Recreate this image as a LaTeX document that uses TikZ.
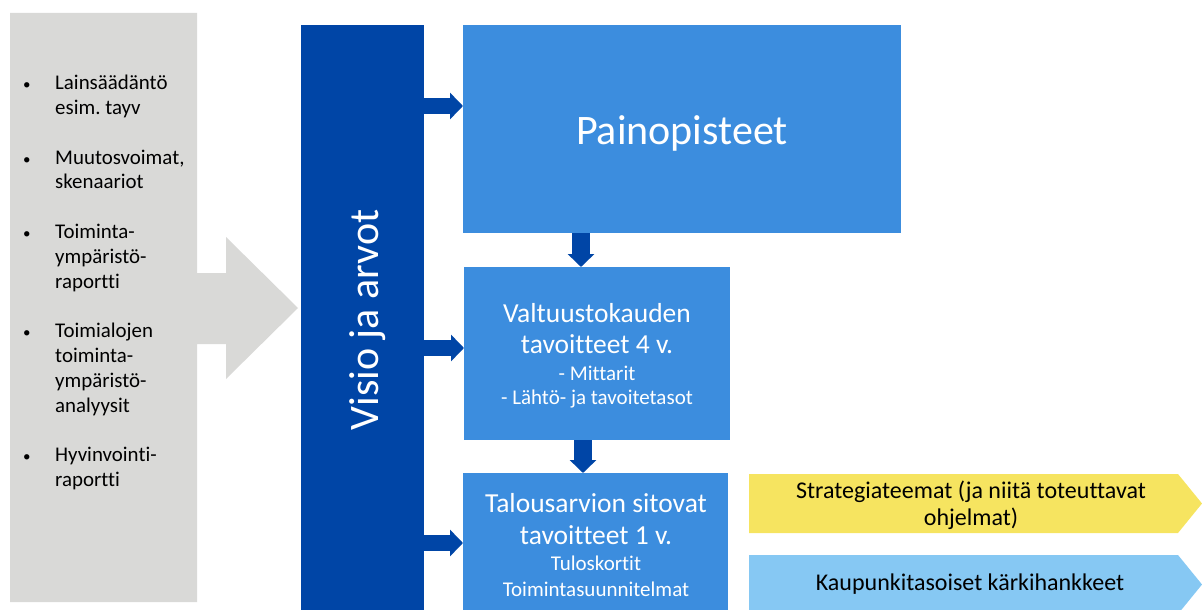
\documentclass[tikz,border=0pt]{standalone}
\usepackage{fontspec}
\setmainfont{Carlito}[Ligatures=NoCommon]
\usetikzlibrary{arrows.meta}
\definecolor{graybg}{HTML}{D9D9D7}
\definecolor{navy}{HTML}{0045A6}
\definecolor{boxblue}{HTML}{3C8DDE}
\definecolor{ylw}{HTML}{F6E460}
\definecolor{skyb}{HTML}{86C8F3}
\frenchspacing
\newcommand{\smallbul}{{\fontsize{15}{15}\selectfont\textbullet}}
\begin{document}
\begin{tikzpicture}[x=1pt,y=-1pt,
  blk/.style={fill=boxblue, draw=none, inner sep=0pt, anchor=north west},
  harrow/.style={draw=navy, line width=16pt, -{Triangle[length=13pt,width=26pt]}},
  varrow/.style={draw=navy, line width=18pt, -{Triangle[length=13pt,width=26pt]}},
  wbig/.style={text=white, inner sep=0pt, anchor=base, font=\fontsize{27.5}{30}\selectfont},
  wsmall/.style={text=white, inner sep=0pt, anchor=base, font=\fontsize{21}{24}\selectfont},
  btxt/.style={text=black, inner sep=0pt, anchor=base, font=\fontsize{24}{27}\selectfont}
]
\useasboundingbox (0,0) rectangle (1202,610);
\clip (0,0) rectangle (1202,610);

% left gray panel with arrow
\fill[graybg] (10,13) -- (197,13) -- (197,273) -- (226,273) -- (226,237) -- (298,308)
  -- (226,379) -- (226,344) -- (197,344) -- (197,602) -- (10,602) -- cycle;
\node[anchor=north west, inner sep=0pt, text=black, font=\fontsize{20.9}{24.8}\selectfont] (factors) at (23,72.1)
{\begin{tabular}{@{}p{32pt}@{}l@{}}
\smallbul & Lainsäädäntö\\
 & esim. tayv\\
 & \\
\smallbul & Muutosvoimat,\\
 & skenaariot\\
 & \\
\smallbul & Toiminta-\\
 & ympäristö-\\
 & raportti\\
 & \\
\smallbul & Toimialojen\\
 & toiminta-\\
 & ympäristö-\\
 & analyysit\\
 & \\
\smallbul & Hyvinvointi-\\
 & raportti
\end{tabular}};

% vision column
\node[fill=navy, draw=none, inner sep=0pt, anchor=north west, minimum width=123pt, minimum height=600pt] (visio) at (301,25) {};
\node[rotate=90, text=white, inner sep=0pt, anchor=base, font=\fontsize{42}{50}\selectfont] (visiotxt) at (378,320) {Visio ja arvot};

% blue boxes
\node[blk, minimum width=438pt, minimum height=208pt] (pain) at (463,25) {};
\node[blk, minimum width=266pt, minimum height=173pt] (valt) at (464,267) {};
\node[blk, minimum width=265pt, minimum height=150pt] (talo) at (463,473) {};

\node[text=white, inner sep=0pt, anchor=base, font=\fontsize{42}{48}\selectfont] (paintxt) at (682,144) {Painopisteet};

\node[wbig] (v1) at (597,322) {Valtuustokauden};
\node[wbig] (v2) at (597,353.5) {tavoitteet 4 v.};
\node[wsmall] (v3) at (597,380) {- Mittarit};
\node[wsmall] (v4) at (597,404.7) {- Lähtö- ja tavoitetasot};

\node[wbig] (t1) at (596,512.3) {Talousarvion sitovat};
\node[wbig] (t2) at (596,544.3) {tavoitteet 1 v.};
\node[wsmall] (t3) at (596,570.7) {Tuloskortit};
\node[wsmall] (t4) at (596,596) {Toimintasuunnitelmat};

% arrows
\draw[harrow] (visio.east |- 0,106) -- (pain.west |- 0,106);
\draw[harrow] (visio.east |- 0,348) -- (valt.west |- 0,348);
\draw[harrow] (visio.east |- 0,543) -- (talo.west |- 0,543);
\draw[varrow] (581,0 |- pain.south) -- (581,0 |- valt.north);
\draw[varrow] (583,0 |- valt.south) -- (583,0 |- talo.north);

% right chevrons
\fill[ylw] (749,474) -- (1178,474) -- (1202,503.5) -- (1178,533) -- (749,533) -- cycle;
\fill[skyb] (749,555) -- (1178,555) -- (1202,584.5) -- (1178,614) -- (749,614) -- cycle;
\node[btxt] (s1) at (971,498.3) {Strategiateemat (ja niitä toteuttavat};
\node[btxt] (s2) at (971,525.7) {ohjelmat)};
\node[btxt] (k1) at (970,590.7) {Kaupunkitasoiset kärkihankkeet};
\end{tikzpicture}
\end{document}
